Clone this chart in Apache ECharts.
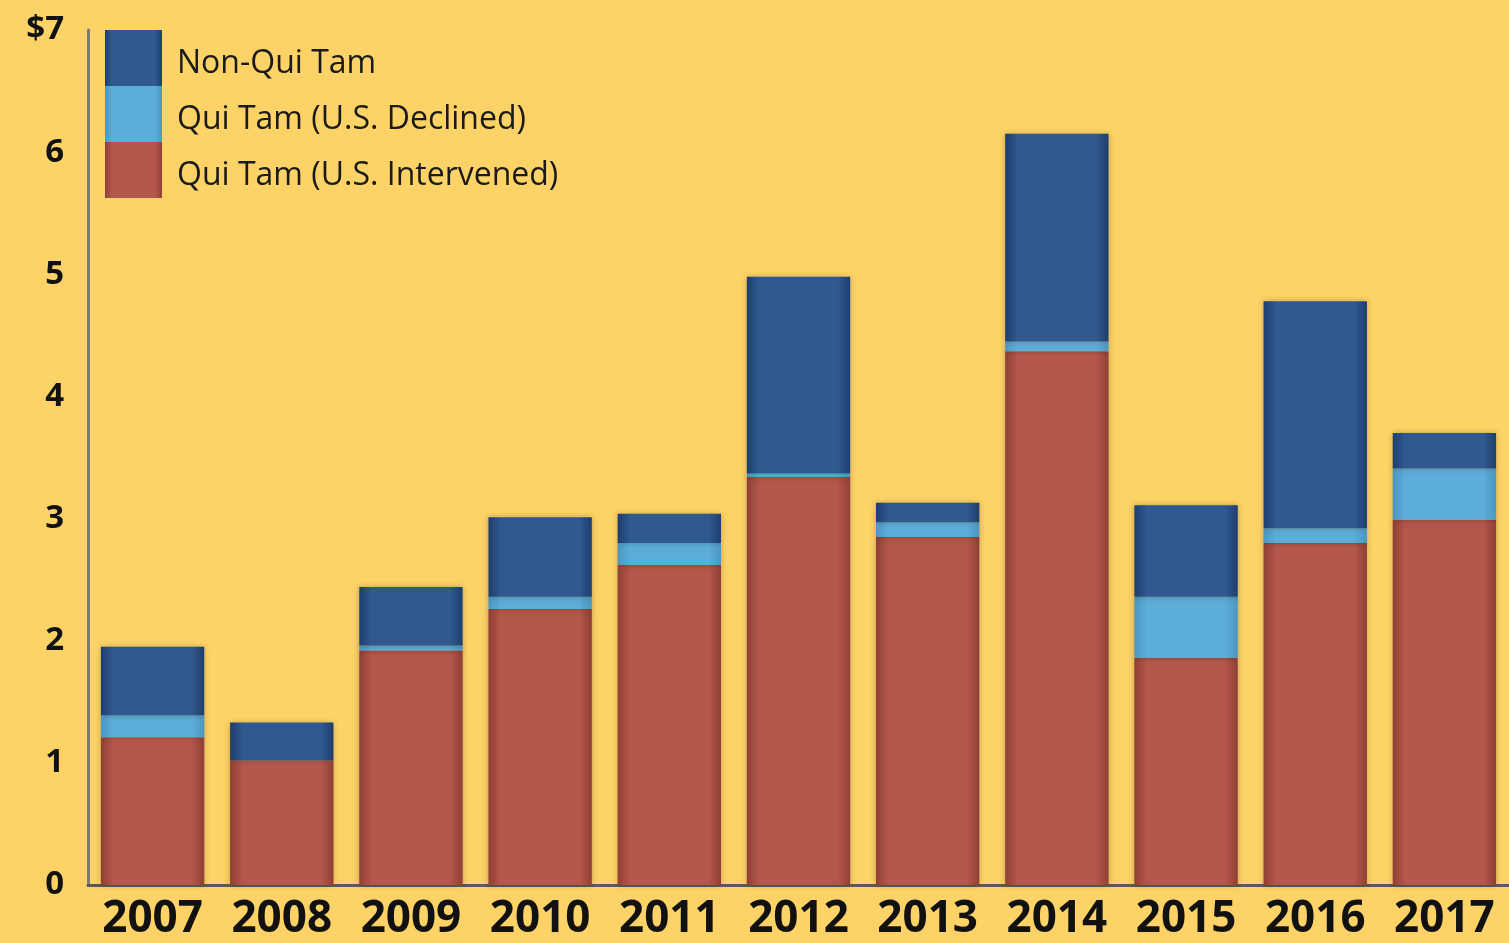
<!DOCTYPE html>
<html>
<head>
<meta charset="utf-8">
<script src="https://cdn.jsdelivr.net/npm/echarts@6/dist/echarts.min.js"></script>
<style>
  html, body { margin: 0; padding: 0; background: #FDD266; }
  #main { width: 1509px; height: 943px; }
</style>
</head>
<body>
<div id="main"></div>
<script>
const years = ['2007', '2008', '2009', '2010', '2011', '2012', '2013', '2014', '2015', '2016', '2017'];
const intervened = [1.21, 1.02, 1.92, 2.26, 2.62, 3.34, 2.85, 4.37, 1.86, 2.80, 2.99];
const declined = [0.18, 0, 0.04, 0.10, 0.18, 0.03, 0.12, 0.08, 0.50, 0.12, 0.42];
const nonQuiTam = [0.56, 0.31, 0.48, 0.65, 0.24, 1.61, 0.16, 1.70, 0.75, 1.86, 0.29];
const yTicks = [0, 1, 2, 3, 4, 5, 6, 7];

function shade(edge, mid) {
  return new echarts.graphic.LinearGradient(0, 0, 1, 0, [
    { offset: 0, color: edge },
    { offset: 0.12, color: mid },
    { offset: 0.5, color: mid },
    { offset: 0.88, color: mid },
    { offset: 1, color: edge }
  ]);
}

const chart = echarts.init(document.getElementById('main'));

const option = {
  backgroundColor: '#FDD266',
  animation: false,
  grid: { left: 88, right: 0, top: 30, bottom: 58 },
  legend: {
    data: ['Non-Qui Tam', 'Qui Tam (U.S. Declined)', 'Qui Tam (U.S. Intervened)'],
    orient: 'vertical',
    left: 105,
    top: 30,
    icon: 'rect',
    itemWidth: 57,
    itemHeight: 56,
    itemGap: 0,
    padding: 0,
    formatter: '{t|{name}}',
    textStyle: {
      rich: {
        t: {
          fontFamily: 'Open Sans',
          fontSize: 32,
          color: '#1a1a1a',
          padding: [12, 0, 0, 10]
        }
      }
    }
  },
  xAxis: {
    type: 'category',
    data: years,
    axisLine: { lineStyle: { color: '#5a5a5a', width: 3 } },
    axisTick: { show: false },
    axisLabel: {
      interval: 0,
      hideOverlap: false,
      fontFamily: 'Open Sans',
      fontWeight: 'bold',
      fontSize: 44,
      color: '#111',
      margin: 12
    }
  },
  yAxis: {
    type: 'value',
    min: 0,
    max: 7,
    interval: 1,
    splitLine: { show: false },
    axisLine: { show: true, lineStyle: { color: '#7a7a7a', width: 3 } },
    axisTick: { show: false },
    axisLabel: {
      fontFamily: 'Open Sans',
      fontWeight: 'bold',
      fontSize: 33,
      color: '#111',
      margin: 24,
      formatter: function (v) {
        return yTicks.indexOf(v) === yTicks.length - 1 ? '$' + v : String(v);
      }
    }
  },
  series: [
    {
      name: 'Qui Tam (U.S. Intervened)',
      type: 'bar',
      stack: 'total',
      barCategoryGap: '20%',
      data: intervened,
      itemStyle: {
        color: shade('#8f3f35', '#b5574b'),
        shadowBlur: 6,
        shadowColor: 'rgba(0,0,0,0.25)'
      }
    },
    {
      name: 'Qui Tam (U.S. Declined)',
      type: 'bar',
      stack: 'total',
      data: declined,
      itemStyle: {
        color: shade('#4b96c2', '#5cadd8'),
        shadowBlur: 6,
        shadowColor: 'rgba(0,0,0,0.25)'
      }
    },
    {
      name: 'Non-Qui Tam',
      type: 'bar',
      stack: 'total',
      data: nonQuiTam,
      itemStyle: {
        color: shade('#1d3e6c', '#30598f'),
        shadowBlur: 6,
        shadowColor: 'rgba(0,0,0,0.25)'
      }
    }
  ]
};

chart.setOption(option);
</script>
</body>
</html>
